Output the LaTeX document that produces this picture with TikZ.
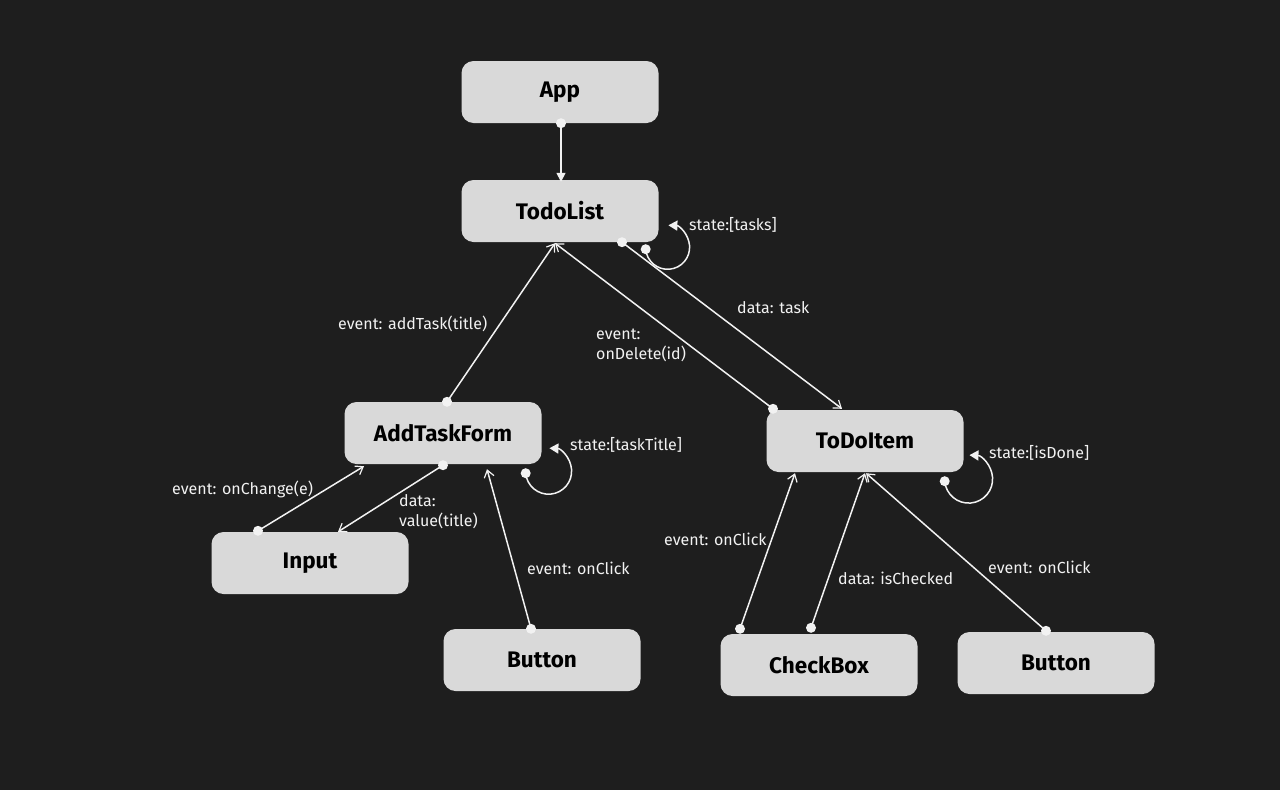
\documentclass[tikz,border=0pt]{standalone}
\usepackage{fontspec}
\setmainfont{Fira Sans}
\usetikzlibrary{arrows.meta,calc}
\definecolor{bg}{HTML}{1E1E1E}
\definecolor{boxfill}{HTML}{D9D9D9}
\definecolor{ink}{HTML}{F2F2F2}
\newcommand\boxtxt[1]{\raisebox{-3pt}{#1}}
\begin{document}
\begin{tikzpicture}[x=1pt,y=-1pt,
  comp/.style={fill=boxfill,rounded corners=12pt,minimum width=197pt,minimum height=62pt,inner sep=0pt,
    font=\fontsize{22.5}{26}\selectfont\bfseries,text=black},
  lbl/.style={anchor=west,inner sep=0pt,text=ink,font=\fontsize{16}{20}\selectfont,align=left},
  conn/.style={draw=ink,line width=1.5pt,-{Straight Barb[length=7pt,width=10pt,line width=1.2pt]}},
  connf/.style={draw=ink,line width=1.5pt,-{Triangle[length=9pt,width=9pt]}},
  loopc/.style={draw=ink,line width=1.5pt,-{Triangle[length=9pt,width=10pt]}},
  dotc/.style={fill=ink,draw=none}
]
\fill[bg] (0,0) rectangle (1280,790);
\useasboundingbox (0,0) rectangle (1280,790);

\node[comp] (app) at (560,92) {\boxtxt{App}};
\node[comp] (todolist) at (560,211) {\boxtxt{TodoList}};
\node[comp] (atf) at (443,433) {\boxtxt{AddTaskForm}};
\node[comp] (todoitem) at (865,441) {\boxtxt{ToDoItem}};
\node[comp] (input) at (310,563) {\boxtxt{Input}};
\node[comp] (btnA) at (542,660) {\boxtxt{Button}};
\node[comp] (checkbox) at (819,665) {\boxtxt{CheckBox}};
\node[comp] (btnB) at (1056,663) {\boxtxt{Button}};

% connector end points
\coordinate (a1) at ($(app.south)+(1,0)$);
\coordinate (a2) at ($(todolist.north)+(1,2)$);
\coordinate (b1) at ($(atf.north)+(4,0)$);
\coordinate (b2) at ($(todolist.south)+(-5,1)$);
\coordinate (c1) at ($(todoitem.north)+(-92,-1)$);
\coordinate (d1) at ($(todolist.south)+(62,0)$);
\coordinate (d2) at ($(todoitem.north)+(-23,-1)$);
\coordinate (e1) at ($(input.north)+(-52,-1)$);
\coordinate (e2) at ($(atf.south)+(-79,2)$);
\coordinate (f1) at ($(atf.south)+(0,1)$);
\coordinate (f2) at ($(input.north)+(28,0)$);
\coordinate (g1) at ($(btnA.north)+(-11,0)$);
\coordinate (g2) at ($(atf.south)+(44,5)$);
\coordinate (h1) at ($(checkbox.north)+(-79,-5)$);
\coordinate (h2) at ($(todoitem.south)+(-70,1)$);
\coordinate (i1) at ($(checkbox.north)+(-8,-6)$);
\coordinate (i2) at ($(todoitem.south)+(0,1)$);
\coordinate (j1) at ($(btnB.north)+(-10,-1)$);
\coordinate (j2) at ($(todoitem.south)+(1,1)$);
\coordinate (l1) at ($(todolist.south east)+(-13,7)$);
\coordinate (l2) at ($(atf.south east)+(-16,9)$);
\coordinate (l3) at ($(todoitem.south east)+(-19,9)$);

% connectors
\draw[connf] (a1) -- (a2);
\draw[conn] (b1) -- (b2);
\draw[conn] (c1) -- (b2);
\draw[conn] (d1) -- (d2);
\draw[conn] (e1) -- (e2);
\draw[conn] (f1) -- (f2);
\draw[conn] (g1) -- (g2);
\draw[conn] (h1) -- (h2);
\draw[conn] (i1) -- (i2);
\draw[conn] (j1) -- (j2);

% self loops (y axis flipped: decreasing angle runs down, right, up)
\draw[loopc] (l1) arc[start angle=175,end angle=-88,radius=22];
\draw[loopc] (l2) arc[start angle=175,end angle=-88,radius=23];
\draw[loopc] (l3) arc[start angle=175,end angle=-88,radius=24];

% dots
\foreach \p in {a1,b1,c1,d1,e1,f1,g1,h1,i1,j1,l1,l2,l3}
  \fill[dotc] (\p) circle (5pt);

% labels
\node[lbl] (t1) at (689,225) {state:[tasks]};
\node[lbl] (t2) at (338,324) {event: addTask(title)};
\node[lbl] (t3) at (596,345) {event:\\onDelete(id)};
\node[lbl] (t4) at (737,308) {data: task};
\node[lbl] (t5) at (172,489) {event: onChange(e)};
\node[lbl] (t6) at (399,512) {data:\\value(title)};
\node[lbl] (t7) at (527,568) {event: onClick};
\node[lbl] (t8) at (570,445) {state:[taskTitle]};
\node[lbl] (t9) at (664,539) {event: onClick};
\node[lbl] (t10) at (838,578) {data: isChecked};
\node[lbl] (t11) at (988,567) {event: onClick};
\node[lbl] (t12) at (989,453) {state:[isDone]};
\end{tikzpicture}
\end{document}
